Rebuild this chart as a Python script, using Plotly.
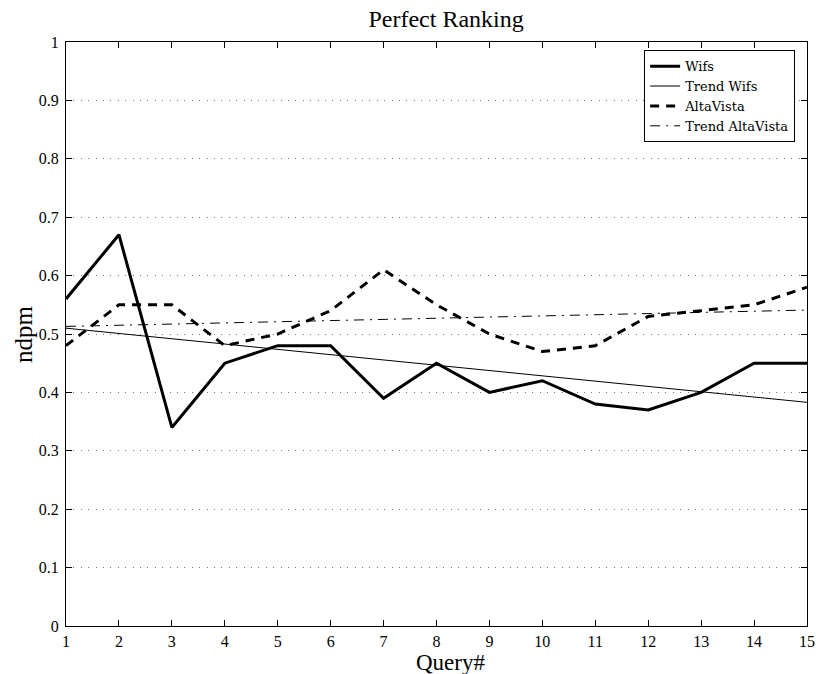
import plotly.graph_objects as go

queries = list(range(1, 16))
wifs = [0.56, 0.67, 0.34, 0.45, 0.48, 0.48, 0.39, 0.45, 0.40, 0.42, 0.38, 0.37, 0.40, 0.45, 0.45]
altavista = [0.48, 0.55, 0.55, 0.48, 0.50, 0.54, 0.61, 0.55, 0.50, 0.47, 0.48, 0.53, 0.54, 0.55, 0.58]
trend_x = [1, 15]
trend_wifs = [0.51, 0.383]
trend_altavista = [0.513, 0.541]
y_ticks = [0, 0.1, 0.2, 0.3, 0.4, 0.5, 0.6, 0.7, 0.8, 0.9, 1]
y_tick_labels = ["0", "0.1", "0.2", "0.3", "0.4", "0.5", "0.6", "0.7", "0.8", "0.9", "1"]

FONT = "Liberation Serif"
LEGEND_FONT = "DejaVu Serif"

fig = go.Figure()
fig.add_trace(go.Scatter(x=queries, y=wifs, mode="lines", name="Wifs",
                         line=dict(color="black", width=3)))
fig.add_trace(go.Scatter(x=trend_x, y=trend_wifs, mode="lines", name="Trend Wifs",
                         line=dict(color="black", width=1)))
fig.add_trace(go.Scatter(x=queries, y=altavista, mode="lines", name="AltaVista",
                         line=dict(color="black", width=3, dash="9px,7px")))
fig.add_trace(go.Scatter(x=trend_x, y=trend_altavista, mode="lines", name="Trend AltaVista",
                         line=dict(color="black", width=1, dash="10px,6px,2px,6px")))

fig.update_layout(
    width=816, height=674,
    margin=dict(l=66, r=9, t=42, b=48, autoexpand=False),
    paper_bgcolor="white", plot_bgcolor="white",
    font=dict(family=FONT, color="black", size=16),
    title=dict(text="Perfect Ranking", xref="paper", x=0.513, xanchor="center",
               yref="container", y=1 - 19 / 674, yanchor="middle",
               font=dict(family=FONT, size=24, color="black")),
    showlegend=True,
    legend=dict(x=0.984, y=0.986, xanchor="right", yanchor="top",
                bgcolor="white", bordercolor="black", borderwidth=1,
                font=dict(family=LEGEND_FONT, size=13, color="black"),
                tracegroupgap=0, itemwidth=30),
    annotations=[
        dict(text="Query#", xref="paper", yref="paper", x=0.519, y=-36 / 584,
             xanchor="center", yanchor="middle", showarrow=False,
             font=dict(family=FONT, size=23, color="black")),
        dict(text="ndpm", xref="paper", yref="paper", x=-43 / 741, y=0.5,
             xanchor="center", yanchor="middle", showarrow=False, textangle=-90,
             font=dict(family=FONT, size=25, color="black")),
    ],
)
fig.update_xaxes(range=[1, 15], tickvals=queries, ticktext=[str(q) for q in queries],
                 showline=True, linecolor="black", linewidth=1, mirror="ticks",
                 ticks="inside", ticklen=6, tickcolor="black",
                 showgrid=False, zeroline=False, automargin=False,
                 ticklabeloverflow="allow", ticklabelstandoff=1,
                 tickfont=dict(family=FONT, size=16))
fig.update_yaxes(range=[0, 1], tickvals=y_ticks, ticktext=y_tick_labels,
                 showline=True, linecolor="black", linewidth=1, mirror="ticks",
                 ticks="inside", ticklen=6, tickcolor="black",
                 showgrid=True, gridcolor="#777777", gridwidth=1, griddash="1px,6.4px",
                 zeroline=False, automargin=False,
                 ticklabeloverflow="allow", ticklabelstandoff=3,
                 tickfont=dict(family=FONT, size=16))

fig.write_html("out.html",
               config={"displayModeBar": False},
               post_script="document.body.style.margin='0';document.body.style.overflow='hidden';")
